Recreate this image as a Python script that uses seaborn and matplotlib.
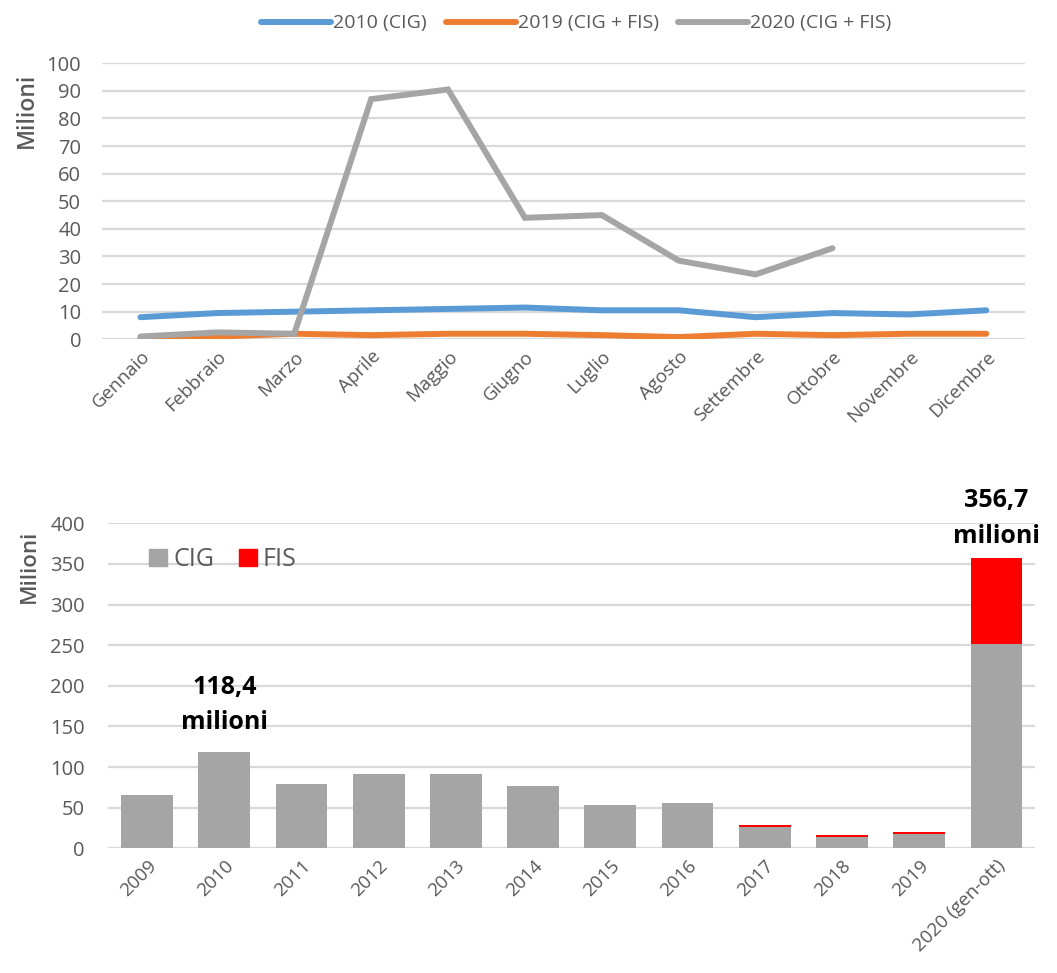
import numpy as np
import pandas as pd
import matplotlib
matplotlib.use("Agg")
import matplotlib.pyplot as plt
import seaborn as sns
from matplotlib.patches import Patch
from matplotlib.lines import Line2D

# ---- data ----
months = ["Gennaio", "Febbraio", "Marzo", "Aprile", "Maggio", "Giugno",
          "Luglio", "Agosto", "Settembre", "Ottobre", "Novembre", "Dicembre"]
s2010 = [8.0, 9.5, 10.0, 10.5, 11.0, 11.5, 10.5, 10.5, 8.0, 9.5, 9.0, 10.5]
s2019 = [0.5, 1.0, 2.0, 1.5, 2.0, 2.0, 1.5, 0.8, 2.0, 1.5, 2.0, 2.0]
s2020 = [1.0, 2.5, 2.0, 87.0, 90.5, 44.0, 45.0, 28.5, 23.5, 33.0, np.nan, np.nan]
series_names = ["2010 (CIG)", "2019 (CIG + FIS)", "2020 (CIG + FIS)"]

years = ["2009", "2010", "2011", "2012", "2013", "2014", "2015", "2016",
         "2017", "2018", "2019", "2020 (gen-ott)"]
cig = [65, 118.4, 79, 92, 92, 77, 53, 56, 26, 13.5, 18, 252]
fis = [0, 0, 0, 0, 0, 0, 0, 0, 2.5, 2.5, 2.5, 104.7]
labels_ann = {1: "118,4\nmilioni", 11: "356,7\nmilioni"}

# ---- style ----
sns.set_theme(style="white")
plt.rcParams['font.family'] = ['Open Sans', 'DejaVu Sans']
tick_col = "#595959"
grid_col = "#d9d9d9"
colors = ["#5b9bd5", "#ed7d31", "#a5a5a5"]

fig = plt.figure(figsize=(10.57, 9.73), dpi=100)

# ---- top line chart ----
ax1 = fig.add_axes([0.0965, 0.6513, 0.873, 0.2837])
df = pd.DataFrame({
    "x": list(range(12)) * 3,
    "val": s2010 + s2019 + s2020,
    "serie": [series_names[0]] * 12 + [series_names[1]] * 12 + [series_names[2]] * 12,
})
sns.lineplot(data=df, x="x", y="val", hue="serie", palette=colors, linewidth=4.3,
             ax=ax1, legend=False, solid_capstyle="round", solid_joinstyle="miter")
ax1.set_xlim(-0.5, 11.5)
ax1.set_ylim(0, 100)
ax1.set_yticks(np.arange(0, 101, 10))
ax1.set_xticks(range(12))
ax1.set_xticklabels(months, rotation=45, ha="right", rotation_mode="anchor")
ax1.yaxis.grid(True, color=grid_col, linewidth=1.6)
ax1.set_axisbelow(True)
for s in ax1.spines.values():
    s.set_visible(False)
ax1.tick_params(axis="y", length=0, pad=15, labelsize=14.5, labelcolor=tick_col)
ax1.tick_params(axis="x", length=0, pad=6, labelsize=13.5, labelcolor=tick_col)
ax1.set_xlabel("")
ax1.set_ylabel("Milioni", color=tick_col, fontsize=16.5, fontweight="semibold")
ax1.yaxis.set_label_coords(-0.068, 0.83)

handles = [Line2D([0], [0], color=c, linewidth=4.3) for c in colors]
fig.legend(handles, series_names, loc="center", bbox_to_anchor=(0.545, 0.976),
           ncol=3, frameon=False, fontsize=14, handlelength=3.6, columnspacing=1.0,
           handletextpad=0.1, labelcolor=tick_col)

# ---- bottom bar chart ----
ax2 = fig.add_axes([0.1026, 0.1282, 0.8766, 0.334])
totals = [c + f for c, f in zip(cig, fis)]
dfb = pd.DataFrame({"anno": years, "cig": cig, "tot": totals})
sns.barplot(data=dfb, x="anno", y="tot", color="#ff0000", saturation=1, width=0.67,
            ax=ax2, zorder=2, linewidth=0)
sns.barplot(data=dfb, x="anno", y="cig", color="#a5a5a5", saturation=1, width=0.67,
            ax=ax2, zorder=3, linewidth=0)
ax2.set_xlim(-0.5, 11.5)
ax2.set_ylim(0, 400)
ax2.set_yticks(np.arange(0, 401, 50))
ax2.set_xticks(range(12))
ax2.set_xticklabels(years, rotation=45, ha="right", rotation_mode="anchor")
ax2.yaxis.grid(True, color=grid_col, linewidth=1.6, zorder=0)
ax2.set_axisbelow(True)
for s in ax2.spines.values():
    s.set_visible(False)
ax2.tick_params(axis="y", length=0, pad=17, labelsize=14.5, labelcolor=tick_col)
ax2.tick_params(axis="x", length=0, pad=6, labelsize=13.5, labelcolor=tick_col)
ax2.set_xlabel("")
ax2.set_ylabel("Milioni", color=tick_col, fontsize=16, fontweight="semibold")
ax2.yaxis.set_label_coords(-0.074, 0.866)

for i, txt in labels_ann.items():
    off = 12 if i == 1 else 7
    ax2.annotate(txt, xy=(i, totals[i]), xytext=(0, off), textcoords="offset points",
                 ha="center", va="bottom", fontsize=18, fontweight="bold",
                 color="black", linespacing=1.55, annotation_clip=False)

leg_handles = [Patch(color="#a5a5a5"), Patch(color="#ff0000")]
ax2.legend(leg_handles, ["CIG", "FIS"], loc="upper left", bbox_to_anchor=(0.02, 0.995),
           ncol=2, frameon=False, fontsize=18, handlelength=0.7, handleheight=0.7,
           handletextpad=0.25, columnspacing=1.0, labelcolor=tick_col)

fig.savefig("out.png", dpi=100, facecolor="white")
